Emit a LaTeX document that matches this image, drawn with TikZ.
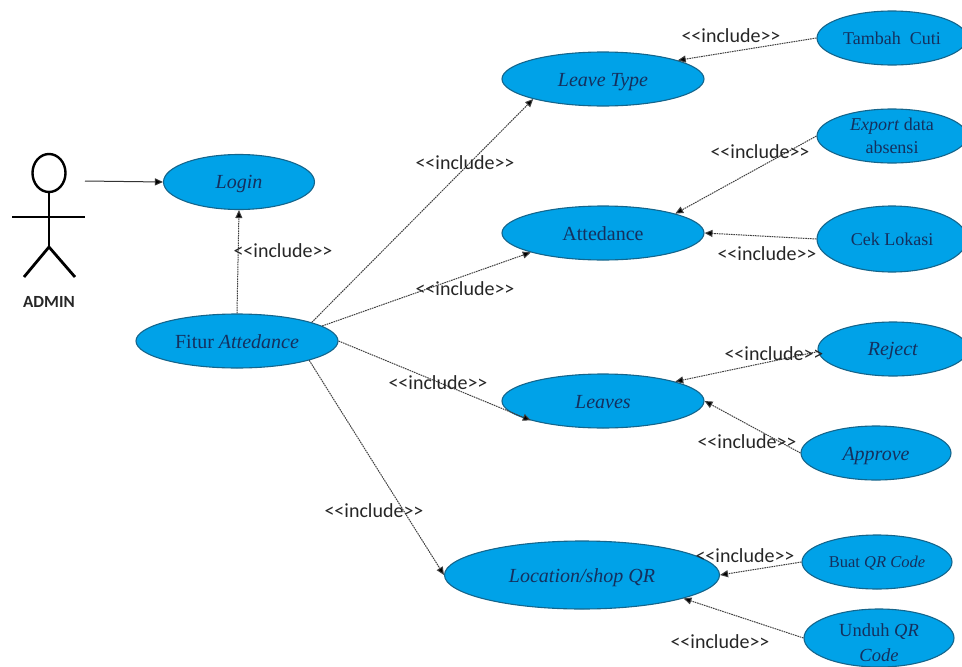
\documentclass[tikz,border=0pt]{standalone}
\usepackage{fontspec}
\setmainfont{Liberation Serif}
\newfontfamily\labelfont{Carlito}
\usetikzlibrary{shapes.geometric,arrows.meta}
\definecolor{ucfill}{HTML}{00A2E8}
\definecolor{ucline}{HTML}{14658C}
\definecolor{uctext}{HTML}{14305E}
\definecolor{dep}{HTML}{404040}
\newcommand{\lowered}[2]{\raisebox{-#1pt}[\height][\depth]{#2}}
\tikzset{
  usecase/.style={ellipse,draw=ucline,line width=1.1pt,fill=ucfill,inner sep=0pt,text=uctext,align=center,font=\fontsize{20}{22}\selectfont},
  big/.style={usecase,minimum width=202pt,minimum height=54pt},
  small/.style={usecase,minimum width=150pt,minimum height=54pt,font=\fontsize{18}{23}\selectfont},
  includes/.style={draw=dep,line width=1pt,dash pattern=on 1.6pt off 0.8pt,-{Triangle[length=8pt,width=7pt,fill=black]}},
  solidarrow/.style={draw=black!80,line width=1pt,-{Triangle[length=8pt,width=7pt,fill=black]}},
  lbl/.style={inner sep=0pt,text=black!85,font=\labelfont\fontsize{20}{22}\selectfont},
  limb/.style={draw=black,line width=2.8pt}
}
\begin{document}
\begin{tikzpicture}[x=1pt,y=-1pt]
\useasboundingbox (0,0) rectangle (962,667);
% actor
\node[ellipse,draw=black,line width=2.4pt,minimum width=33pt,minimum height=38pt,inner sep=0pt] (head) at (49,173) {};
\coordinate (hip) at (49,247);
\coordinate (armL) at (12,217);
\coordinate (armR) at (85,217);
\coordinate (legL) at (24,277);
\coordinate (legR) at (75,277);
\draw[limb] (head.south) -- (hip);
\draw[limb] (armL) -- (armR);
\draw[limb] (legL) -- (hip) -- (legR);
\node[inner sep=0pt,font=\labelfont\bfseries\fontsize{17}{19}\selectfont,text=black!85] (admin) at (49,302) {ADMIN};
\coordinate (actorout) at (85,181);
% use cases
\node[usecase,minimum width=151pt,minimum height=55pt] (login) at (239,182) {\lowered{2}{\textit{Login}}};
\node[big] (fitur) at (237,341) {\lowered{1}{Fitur \textit{Attedance}}};
\node[big] (leavetype) at (603,79) {\lowered{3}{\textit{Leave Type}}};
\node[big] (attedance) at (603,233) {\lowered{1}{Attedance}};
\node[big] (leaves) at (603,401) {\lowered{1}{\textit{Leaves}}};
\node[usecase,minimum width=275pt,minimum height=68pt] (location) at (582,575) {\lowered{3}{\textit{Location/shop QR}}};
\node[small] (tambah) at (892,38) {Tambah\ \ Cuti};
\node[small] (export) at (892,136) {\textit{Export} data\\absensi};
\node[small,minimum height=66pt] (cek) at (892,239) {Cek Lokasi};
\node[usecase,minimum width=150pt,minimum height=54pt] (reject) at (893,349) {\lowered{2}{\textit{Reject}}};
\node[usecase,minimum width=150pt,minimum height=54pt] (approve) at (876,453) {\lowered{3}{\textit{Approve}}};
\node[small,font=\fontsize{16.5}{20}\selectfont] (buat) at (877,562) {\lowered{1}{Buat \textit{QR Code}}};
\node[small,minimum height=58pt,font=\fontsize{18.5}{25}\selectfont] (unduh) at (879,638) {\lowered{5}{Unduh \textit{QR}}\\\lowered{5}{\textit{Code}}};
% connectors
\draw[solidarrow] (actorout) -- (login.west);
\draw[includes] (fitur.north) -- (login.south);
\draw[includes] (fitur.14.6) -- (leavetype.196.5);
\draw[includes] (fitur.10.6) -- (attedance.195.7);
\draw[includes] (fitur.east) -- (leaves.195);
\draw[includes] (fitur.-15.3) -- (location.west);
\draw[includes] (tambah.west) -- (leavetype.14.6);
\draw[includes] (export.west) -- (attedance.15);
\draw[includes] (cek.west) -- (attedance.east);
\draw[includes] (reject.182) -- (leaves.15);
\draw[includes] (approve.west) -- (leaves.east);
\draw[includes] (buat.west) -- (location.east);
\draw[includes] (unduh.west) -- (location.-13.2);
% labels
\node[lbl] (l1) at (283,251) {<<include>>};
\node[lbl] (l2) at (465,163) {<<include>>};
\node[lbl] (l3) at (465,289) {<<include>>};
\node[lbl] (l4) at (438,383) {<<include>>};
\node[lbl] (l5) at (374,511) {<<include>>};
\node[lbl] (l6) at (731,36) {<<include>>};
\node[lbl] (l7) at (760,152) {<<include>>};
\node[lbl] (l8) at (767,254) {<<include>>};
\node[lbl] (l9) at (774,354) {<<include>>};
\node[lbl] (l10) at (747,442) {<<include>>};
\node[lbl] (l11) at (745,556) {<<include>>};
\node[lbl] (l12) at (720,642) {<<include>>};
\end{tikzpicture}
\end{document}
